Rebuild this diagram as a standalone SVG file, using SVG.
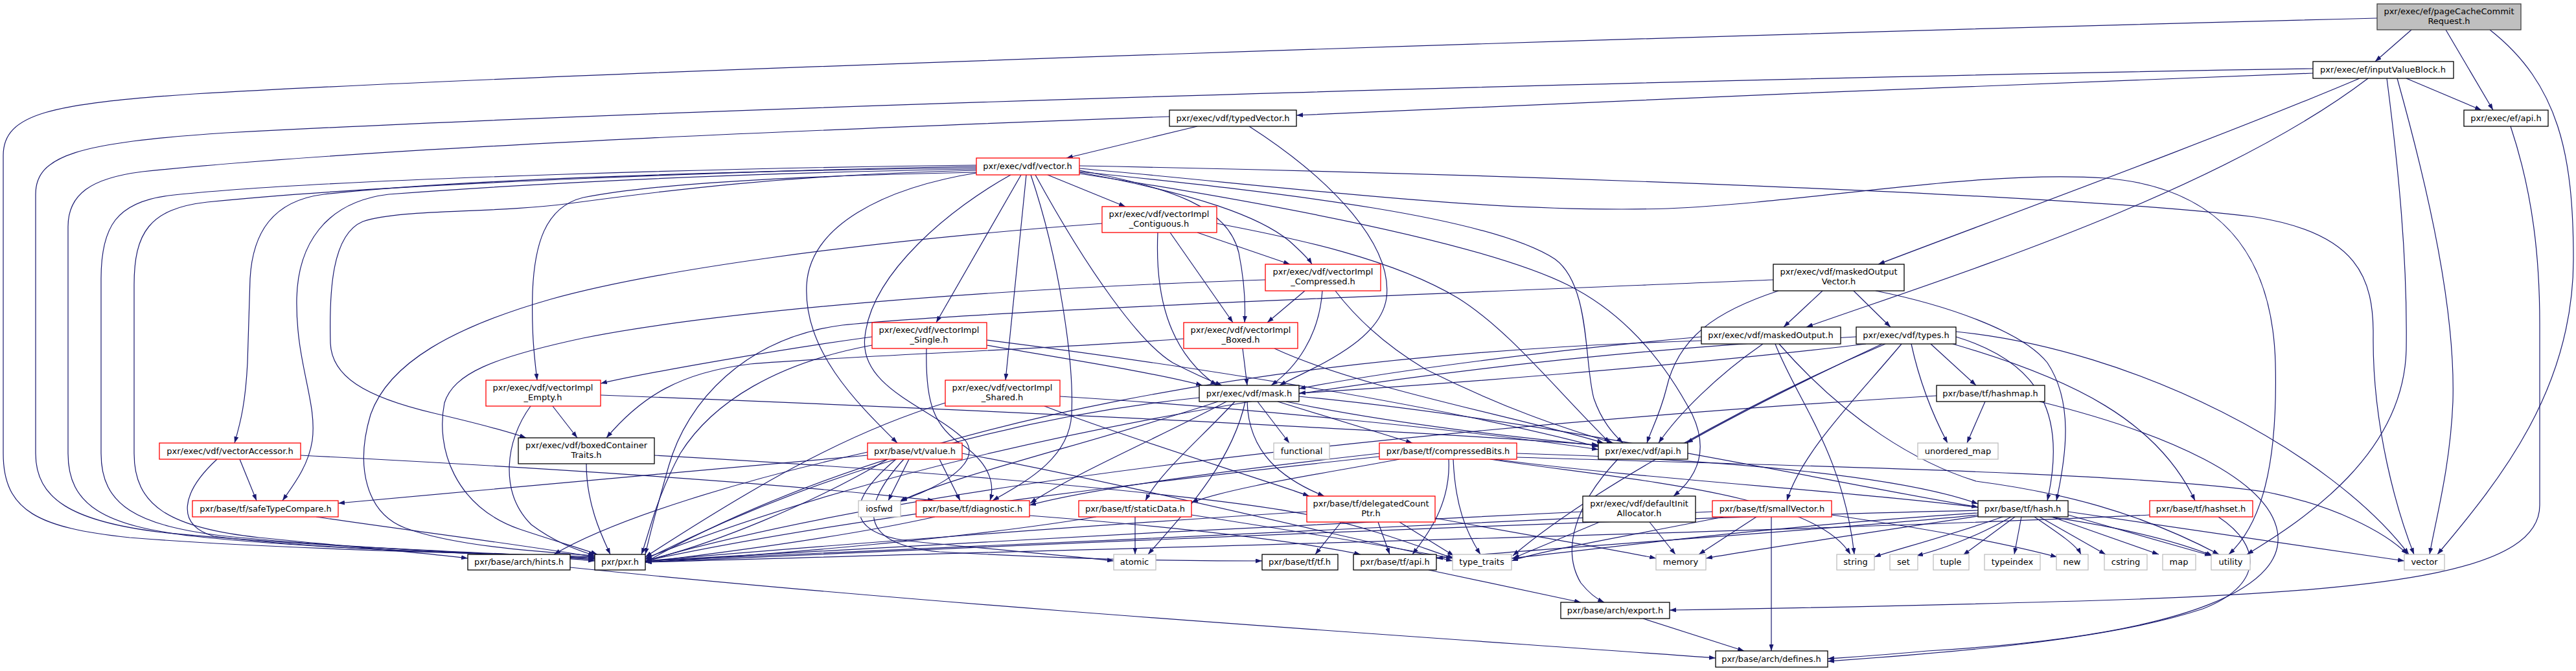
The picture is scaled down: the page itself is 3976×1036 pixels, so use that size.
<svg xmlns="http://www.w3.org/2000/svg" width="3976" height="1036" viewBox="0 0 3976 1036">
<style>
.nd rect{fill:#fff;stroke:#000;stroke-width:1.3}
.nd.r rect{stroke:#f00}
.nd.s rect{stroke:#bfbfbf}
.nd.root rect{fill:#bfbfbf;stroke:#404040}
.nd text{font-family:"DejaVu Sans","Liberation Sans",sans-serif;font-size:13px;text-anchor:middle;fill:#000}
#edges path{fill:none;stroke:#191970;stroke-width:1.2;marker-end:url(#a)}
</style>
<defs>
<marker id="a" markerWidth="10" markerHeight="7" refX="10" refY="3.5" orient="auto" markerUnits="userSpaceOnUse"><path d="M0,0 L10,3.5 L0,7 Z" fill="#191970" stroke="none"/></marker>
</defs>
<rect x="0" y="0" width="3976" height="1036" fill="#fff"/>
<g id="edges">
<path d="M3722,46 L3666,95"/>
<path d="M3775,46 L3848,170"/>
<path d="M3843,46 C3950,130 3972,240 3972,400 C3972,600 3860,740 3762,856"/>
<path d="M3669,28 C2600,55 900,110 300,145 C80,160 5,175 5,240 L5,700 C5,790 60,815 200,830 C450,850 800,855 918,860"/>
<path d="M3570,113 C3200,125 2400,160 2001,178"/>
<path d="M3570,106 C2800,118 1200,160 350,205 C120,220 55,240 55,300 L55,700 C55,770 110,805 250,822 C480,845 800,855 918,862"/>
<path d="M3642,121 C3420,215 3050,350 2899,408"/>
<path d="M3655,121 C3420,300 3000,430 2788,505"/>
<path d="M3714,121 L3830,170"/>
<path d="M3684,121 C3702,260 3716,400 3714,540 C3710,700 3560,800 3468,856"/>
<path d="M3700,121 C3750,300 3790,480 3786,620 C3782,720 3760,800 3750,856"/>
<path d="M1848,195 L1646,244"/>
<path d="M1928,195 C2060,280 2150,380 2140,460 C2130,530 2020,570 1975,595"/>
<path d="M1805,180 C1400,195 600,225 220,265 C140,275 105,300 105,350 L105,700 C105,780 160,812 300,828 C500,850 820,856 918,864"/>
<path d="M1617,270 L1737,319"/>
<path d="M1576,270 L1445,498"/>
<path d="M1584,270 L1552,587"/>
<path d="M1591,270 C1635,400 1658,560 1654,640 C1650,710 1580,745 1532,773"/>
<path d="M1598,270 C1680,420 1760,530 1810,560 C1845,578 1868,588 1886,595"/>
<path d="M1666,263 C1810,290 1895,320 1912,390 C1922,440 1922,480 1921,498"/>
<path d="M1666,266 C1850,300 1945,335 1990,372 C2010,390 2020,400 2025,408"/>
<path d="M1666,256 C2300,268 3200,300 3480,335 C3640,360 3664,430 3663,520 C3662,660 3700,790 3726,856"/>
<path d="M1666,260 C2000,290 2300,330 2574,322 C2800,312 3050,262 3250,275 C3450,292 3508,420 3512,560 C3516,720 3490,810 3440,856"/>
<path d="M1666,265 C2000,300 2300,335 2400,400 C2455,440 2445,560 2460,615 C2472,650 2490,670 2505,684"/>
<path d="M1666,268 C2000,320 2300,380 2420,440 C2510,485 2570,560 2612,640 C2640,700 2615,740 2583,766"/>
<path d="M1513,266 C1360,290 1250,350 1245,440 C1240,540 1320,620 1385,684"/>
<path d="M1560,270 C1470,320 1345,420 1335,520 C1325,600 1440,630 1490,680 C1520,720 1430,760 1390,773"/>
<path d="M1507,257 C1200,262 600,283 320,312 C230,322 207,360 207,440 L207,700 C207,780 260,815 400,830 C550,845 670,855 722,862"/>
<path d="M1507,255 C1200,258 500,275 260,302 C180,312 156,350 156,430 L156,700 C156,780 210,812 350,828 C550,848 820,856 918,866"/>
<path d="M1507,259 C1100,264 700,278 500,300 C420,310 390,360 386,430 L382,560 C379,620 372,650 362,684"/>
<path d="M1507,261 C1100,268 800,285 600,300 C500,312 460,380 458,460 C456,560 490,620 482,680 C476,720 452,750 436,773"/>
<path d="M1507,263 C1200,270 1000,298 880,314 C760,330 620,322 560,342 C512,362 508,450 510,530 C512,580 560,612 670,638 C730,652 780,665 812,676"/>
<path d="M1507,266 C1200,272 1000,285 900,305 C840,320 825,380 822,450 C820,520 826,560 829,587"/>
<path d="M1806,359 L1903,498"/>
<path d="M1848,359 L1991,408"/>
<path d="M1787,359 C1783,450 1800,540 1878,595"/>
<path d="M1701,345 C1300,375 1000,420 850,462 C700,505 600,560 572,640 C548,720 565,792 625,815 C705,845 850,853 918,858"/>
<path d="M1878,345 C2000,368 2150,400 2250,460 C2330,510 2400,600 2485,684"/>
<path d="M2014,449 L1956,498"/>
<path d="M2041,449 C2036,520 2000,568 1962,595"/>
<path d="M2061,449 C2100,500 2150,540 2200,570 C2320,630 2410,660 2490,684"/>
<path d="M1953,432 C1500,447 1100,482 900,522 C760,552 700,577 686,622 C672,692 702,782 802,817 C862,837 900,848 922,856"/>
<path d="M1918,538 L1925,595"/>
<path d="M1827,523 C1600,540 1300,550 1158,562 C1050,575 990,612 936,676"/>
<path d="M1967,538 C2100,600 2350,645 2475,684"/>
<path d="M1523,533 C1650,555 1780,575 1856,595"/>
<path d="M1523,525 C1800,560 2200,620 2467,690"/>
<path d="M1346,520 C1200,540 1000,575 927,592"/>
<path d="M1430,538 C1428,620 1440,660 1490,690 C1530,720 1535,750 1528,773"/>
<path d="M1346,533 C1200,560 1100,620 1050,700 C1012,770 1000,830 990,856"/>
<path d="M1612,627 C1750,680 1950,740 2021,766"/>
<path d="M1636,612 C1900,628 2250,662 2467,694"/>
<path d="M1459,622 C1300,670 1150,760 996,860"/>
<path d="M853,627 L891,676"/>
<path d="M819,627 C780,680 770,760 820,810 C860,840 895,850 918,858"/>
<path d="M927,610 C1400,628 2100,660 2467,687"/>
<path d="M905,716 C905,780 930,830 942,856"/>
<path d="M1010,703 C1500,730 1900,770 2020,795 C2120,815 2200,848 2244,862"/>
<path d="M370,709 L396,773"/>
<path d="M335,709 C280,760 270,810 330,828 C500,850 800,856 918,862"/>
<path d="M464,703 C800,720 1200,745 1442,773"/>
<path d="M488,798 C600,815 800,840 918,860"/>
<path d="M1339,703 C1100,725 700,760 522,777"/>
<path d="M1403,709 L1371,773"/>
<path d="M1450,709 L1482,773"/>
<path d="M1339,698 C1150,740 950,800 855,856"/>
<path d="M1370,709 C1250,780 1100,840 996,866"/>
<path d="M1383,709 C1310,770 1300,820 1400,835 C1550,850 1650,858 1719,866"/>
<path d="M1485,700 C1700,740 1950,800 2242,866"/>
<path d="M1395,709 C1330,780 1320,840 1450,852 C1700,866 1850,866 1948,866"/>
<path d="M1941,620 L1990,684"/>
<path d="M1972,620 L2180,684"/>
<path d="M1985,620 C2150,655 2350,676 2468,688"/>
<path d="M1906,620 C1850,680 1790,730 1768,773"/>
<path d="M1922,620 C1900,720 1820,800 1772,856"/>
<path d="M1893,620 C1780,680 1660,730 1590,777"/>
<path d="M1880,620 C1700,680 1450,740 1388,775"/>
<path d="M1925,620 C1927,700 1980,740 2044,766"/>
<path d="M2005,612 C2400,650 2800,740 3053,783"/>
<path d="M1851,614 C1500,650 1200,760 996,864"/>
<path d="M2813,449 L2753,505"/>
<path d="M2861,449 L2918,505"/>
<path d="M2745,449 C2650,480 2590,520 2572,600 C2562,640 2548,665 2542,684"/>
<path d="M2737,432 C2300,450 1500,480 1300,502 C1150,522 1060,620 1032,720 C1012,790 1002,830 996,856"/>
<path d="M2895,449 C3000,470 3120,510 3160,560 C3200,620 3190,700 3174,773"/>
<path d="M2626,520 C2400,540 2150,572 2005,600"/>
<path d="M2721,531 C2650,580 2590,640 2560,684"/>
<path d="M2740,531 C2775,620 2845,700 2862,856"/>
<path d="M2746,531 C2850,650 2960,715 3050,743 C3180,760 3300,790 3425,856"/>
<path d="M2626,526 C2000,545 1400,640 996,868"/>
<path d="M2980,531 L3050,595"/>
<path d="M2950,531 C2965,600 2988,650 3006,684"/>
<path d="M2935,531 C2860,620 2780,700 2758,773"/>
<path d="M2880,531 C2600,565 2200,595 2005,607"/>
<path d="M2905,531 C2800,580 2680,640 2603,684"/>
<path d="M3019,512 C3300,540 3600,700 3718,856"/>
<path d="M3019,520 C3150,560 3190,640 3160,773"/>
<path d="M3014,531 C3200,585 3330,650 3388,773"/>
<path d="M2865,520 C2400,545 1600,625 996,862"/>
<path d="M2910,531 C2700,620 2450,760 2335,858"/>
<path d="M3064,620 L3036,684"/>
<path d="M2989,611 C2500,640 1500,720 996,866"/>
<path d="M3148,620 C3350,670 3500,740 3515,820 C3530,900 3400,980 2975,1005 C2900,1012 2850,1015 2821,1017"/>
<path d="M3318,795 C2800,820 1600,850 996,868"/>
<path d="M3424,798 C3495,845 3490,905 3400,940 C3250,990 3000,1008 2821,1021"/>
<path d="M2243,709 C2246,780 2262,820 2285,856"/>
<path d="M2236,709 C2240,780 2200,830 2180,856"/>
<path d="M2129,700 C1950,720 1700,750 1589,780"/>
<path d="M2160,709 C2050,730 1900,752 1839,776"/>
<path d="M2129,705 C1800,740 1300,800 996,866"/>
<path d="M2300,709 C2500,740 2800,760 2856,856"/>
<path d="M2341,706 C2800,720 3300,730 3500,760 C3600,780 3680,820 3716,856"/>
<path d="M2341,700 C2700,710 2950,740 3053,778"/>
<path d="M2306,709 C2700,760 3200,770 3415,858"/>
<path d="M2070,806 L2030,856"/>
<path d="M2127,806 L2145,856"/>
<path d="M2160,806 L2244,858"/>
<path d="M2215,800 C2380,830 2500,850 2556,862"/>
<path d="M2017,790 C1700,810 1300,840 996,866"/>
<path d="M2469,806 L2335,862"/>
<path d="M2546,806 L2586,856"/>
<path d="M2443,790 C2000,810 1400,842 996,866"/>
<path d="M2711,798 L2622,856"/>
<path d="M2734,798 L2734,1005"/>
<path d="M2827,795 C3000,820 3100,840 3175,860"/>
<path d="M2643,790 C2200,810 1500,846 996,866"/>
<path d="M2660,798 C2500,830 2380,850 2333,866"/>
<path d="M3091,798 C3000,830 2920,850 2893,860"/>
<path d="M3104,798 C3050,830 2990,850 2958,858"/>
<path d="M3110,798 L3030,857"/>
<path d="M3120,798 L3109,856"/>
<path d="M3140,798 C3180,825 3205,842 3212,856"/>
<path d="M3148,798 L3250,856"/>
<path d="M3167,798 L3332,856"/>
<path d="M3192,795 L3413,858"/>
<path d="M3192,790 C3400,820 3600,850 3711,866"/>
<path d="M3053,788 C2500,800 1500,845 996,868"/>
<path d="M3053,795 C2800,820 2400,845 2217,862"/>
<path d="M3053,792 C2700,815 2450,850 2333,862"/>
<path d="M3053,797 C2900,820 2700,850 2633,862"/>
<path d="M1443,798 C1300,830 1100,855 996,868"/>
<path d="M1589,796 C1900,820 2050,845 2100,856"/>
<path d="M1752,798 L1752,856"/>
<path d="M1692,798 C1500,830 1200,856 996,868"/>
<path d="M1839,795 C2000,820 2150,845 2242,862"/>
<path d="M2205,880 L2440,930"/>
<path d="M2497,709 C2430,780 2410,850 2440,900 C2452,915 2465,925 2476,930"/>
<path d="M3875,195 C3910,300 3920,400 3920,500 L3920,780 C3920,880 3700,910 3300,925 C3000,935 2700,940 2577,942"/>
<path d="M2536,955 L2692,1005"/>
<path d="M880,876 C1500,940 2300,990 2648,1016"/>
</g>
<g id="n_pageCacheCommitRequest" class="nd root"><rect x="3669" y="6" width="222" height="40"/><text x="3780" y="22">pxr/exec/ef/pageCacheCommit</text><text x="3780" y="37">Request.h</text></g>
<g id="n_inputValueBlock" class="nd"><rect x="3570" y="95" width="217" height="26"/><text x="3678" y="112">pxr/exec/ef/inputValueBlock.h</text></g>
<g id="n_ef_api" class="nd"><rect x="3803" y="170" width="130" height="25"/><text x="3868" y="187">pxr/exec/ef/api.h</text></g>
<g id="n_typedVector" class="nd"><rect x="1805" y="170" width="196" height="25"/><text x="1903" y="187">pxr/exec/vdf/typedVector.h</text></g>
<g id="n_vector_h" class="nd r"><rect x="1507" y="244" width="159" height="26"/><text x="1586" y="261">pxr/exec/vdf/vector.h</text></g>
<g id="n_contiguous" class="nd r"><rect x="1701" y="319" width="177" height="40"/><text x="1789" y="335">pxr/exec/vdf/vectorImpl</text><text x="1789" y="350">_Contiguous.h</text></g>
<g id="n_compressed" class="nd r"><rect x="1953" y="408" width="178" height="41"/><text x="2042" y="424">pxr/exec/vdf/vectorImpl</text><text x="2042" y="439">_Compressed.h</text></g>
<g id="n_maskedOutputVector" class="nd"><rect x="2737" y="408" width="202" height="41"/><text x="2838" y="424">pxr/exec/vdf/maskedOutput</text><text x="2838" y="439">Vector.h</text></g>
<g id="n_single" class="nd r"><rect x="1346" y="498" width="177" height="40"/><text x="1434" y="514">pxr/exec/vdf/vectorImpl</text><text x="1434" y="529">_Single.h</text></g>
<g id="n_boxed" class="nd r"><rect x="1827" y="498" width="176" height="40"/><text x="1915" y="514">pxr/exec/vdf/vectorImpl</text><text x="1915" y="529">_Boxed.h</text></g>
<g id="n_maskedOutput" class="nd"><rect x="2626" y="505" width="215" height="26"/><text x="2733" y="522">pxr/exec/vdf/maskedOutput.h</text></g>
<g id="n_types" class="nd"><rect x="2865" y="505" width="154" height="26"/><text x="2942" y="522">pxr/exec/vdf/types.h</text></g>
<g id="n_empty" class="nd r"><rect x="750" y="587" width="177" height="40"/><text x="838" y="603">pxr/exec/vdf/vectorImpl</text><text x="838" y="618">_Empty.h</text></g>
<g id="n_shared" class="nd r"><rect x="1459" y="587" width="177" height="40"/><text x="1547" y="603">pxr/exec/vdf/vectorImpl</text><text x="1547" y="618">_Shared.h</text></g>
<g id="n_mask" class="nd"><rect x="1851" y="595" width="154" height="25"/><text x="1928" y="612">pxr/exec/vdf/mask.h</text></g>
<g id="n_hashmap" class="nd"><rect x="2989" y="595" width="167" height="25"/><text x="3072" y="612">pxr/base/tf/hashmap.h</text></g>
<g id="n_boxedContainerTraits" class="nd"><rect x="800" y="676" width="210" height="40"/><text x="905" y="692">pxr/exec/vdf/boxedContainer</text><text x="905" y="707">Traits.h</text></g>
<g id="n_vectorAccessor" class="nd r"><rect x="246" y="684" width="218" height="25"/><text x="355" y="701">pxr/exec/vdf/vectorAccessor.h</text></g>
<g id="n_value" class="nd r"><rect x="1339" y="684" width="146" height="25"/><text x="1412" y="701">pxr/base/vt/value.h</text></g>
<g id="n_functional" class="nd s"><rect x="1966" y="684" width="86" height="25"/><text x="2009" y="701">functional</text></g>
<g id="n_compressedBits" class="nd r"><rect x="2129" y="684" width="212" height="25"/><text x="2235" y="701">pxr/base/tf/compressedBits.h</text></g>
<g id="n_vdf_api" class="nd"><rect x="2467" y="684" width="138" height="25"/><text x="2536" y="701">pxr/exec/vdf/api.h</text></g>
<g id="n_unordered_map" class="nd s"><rect x="2960" y="684" width="124" height="25"/><text x="3022" y="701">unordered_map</text></g>
<g id="n_safeTypeCompare" class="nd r"><rect x="297" y="773" width="225" height="25"/><text x="410" y="790">pxr/base/tf/safeTypeCompare.h</text></g>
<g id="n_iosfwd" class="nd s"><rect x="1325" y="773" width="65" height="25"/><text x="1357" y="790">iosfwd</text></g>
<g id="n_diagnostic" class="nd r"><rect x="1414" y="773" width="175" height="25"/><text x="1501" y="790">pxr/base/tf/diagnostic.h</text></g>
<g id="n_staticData" class="nd r"><rect x="1665" y="773" width="174" height="25"/><text x="1752" y="790">pxr/base/tf/staticData.h</text></g>
<g id="n_delegatedCountPtr" class="nd r"><rect x="2017" y="766" width="198" height="40"/><text x="2116" y="782">pxr/base/tf/delegatedCount</text><text x="2116" y="797">Ptr.h</text></g>
<g id="n_defaultInitAllocator" class="nd"><rect x="2443" y="766" width="174" height="40"/><text x="2530" y="782">pxr/exec/vdf/defaultInit</text><text x="2530" y="797">Allocator.h</text></g>
<g id="n_smallVector" class="nd r"><rect x="2643" y="773" width="184" height="25"/><text x="2735" y="790">pxr/base/tf/smallVector.h</text></g>
<g id="n_hash" class="nd"><rect x="3053" y="773" width="139" height="25"/><text x="3122" y="790">pxr/base/tf/hash.h</text></g>
<g id="n_hashset" class="nd r"><rect x="3318" y="773" width="159" height="25"/><text x="3397" y="790">pxr/base/tf/hashset.h</text></g>
<g id="n_hints" class="nd"><rect x="722" y="856" width="158" height="24"/><text x="801" y="872">pxr/base/arch/hints.h</text></g>
<g id="n_pxr" class="nd"><rect x="918" y="856" width="78" height="24"/><text x="957" y="872">pxr/pxr.h</text></g>
<g id="n_atomic" class="nd s"><rect x="1719" y="856" width="65" height="24"/><text x="1751" y="872">atomic</text></g>
<g id="n_tf" class="nd"><rect x="1948" y="856" width="117" height="24"/><text x="2006" y="872">pxr/base/tf/tf.h</text></g>
<g id="n_tf_api" class="nd"><rect x="2089" y="856" width="128" height="24"/><text x="2153" y="872">pxr/base/tf/api.h</text></g>
<g id="n_type_traits" class="nd s"><rect x="2242" y="856" width="91" height="24"/><text x="2287" y="872">type_traits</text></g>
<g id="n_memory" class="nd s"><rect x="2556" y="856" width="77" height="24"/><text x="2594" y="872">memory</text></g>
<g id="n_string" class="nd s"><rect x="2835" y="856" width="58" height="24"/><text x="2864" y="872">string</text></g>
<g id="n_set" class="nd s"><rect x="2917" y="856" width="43" height="24"/><text x="2938" y="872">set</text></g>
<g id="n_tuple" class="nd s"><rect x="2984" y="856" width="55" height="24"/><text x="3011" y="872">tuple</text></g>
<g id="n_typeindex" class="nd s"><rect x="3063" y="856" width="86" height="24"/><text x="3106" y="872">typeindex</text></g>
<g id="n_new" class="nd s"><rect x="3174" y="856" width="49" height="24"/><text x="3198" y="872">new</text></g>
<g id="n_cstring" class="nd s"><rect x="3248" y="856" width="66" height="24"/><text x="3281" y="872">cstring</text></g>
<g id="n_map" class="nd s"><rect x="3338" y="856" width="51" height="24"/><text x="3363" y="872">map</text></g>
<g id="n_utility" class="nd s"><rect x="3413" y="856" width="60" height="24"/><text x="3443" y="872">utility</text></g>
<g id="n_vector" class="nd s"><rect x="3711" y="856" width="62" height="24"/><text x="3742" y="872">vector</text></g>
<g id="n_export" class="nd"><rect x="2409" y="930" width="168" height="25"/><text x="2493" y="947">pxr/base/arch/export.h</text></g>
<g id="n_defines" class="nd"><rect x="2648" y="1005" width="173" height="25"/><text x="2734" y="1022">pxr/base/arch/defines.h</text></g>
</svg>
